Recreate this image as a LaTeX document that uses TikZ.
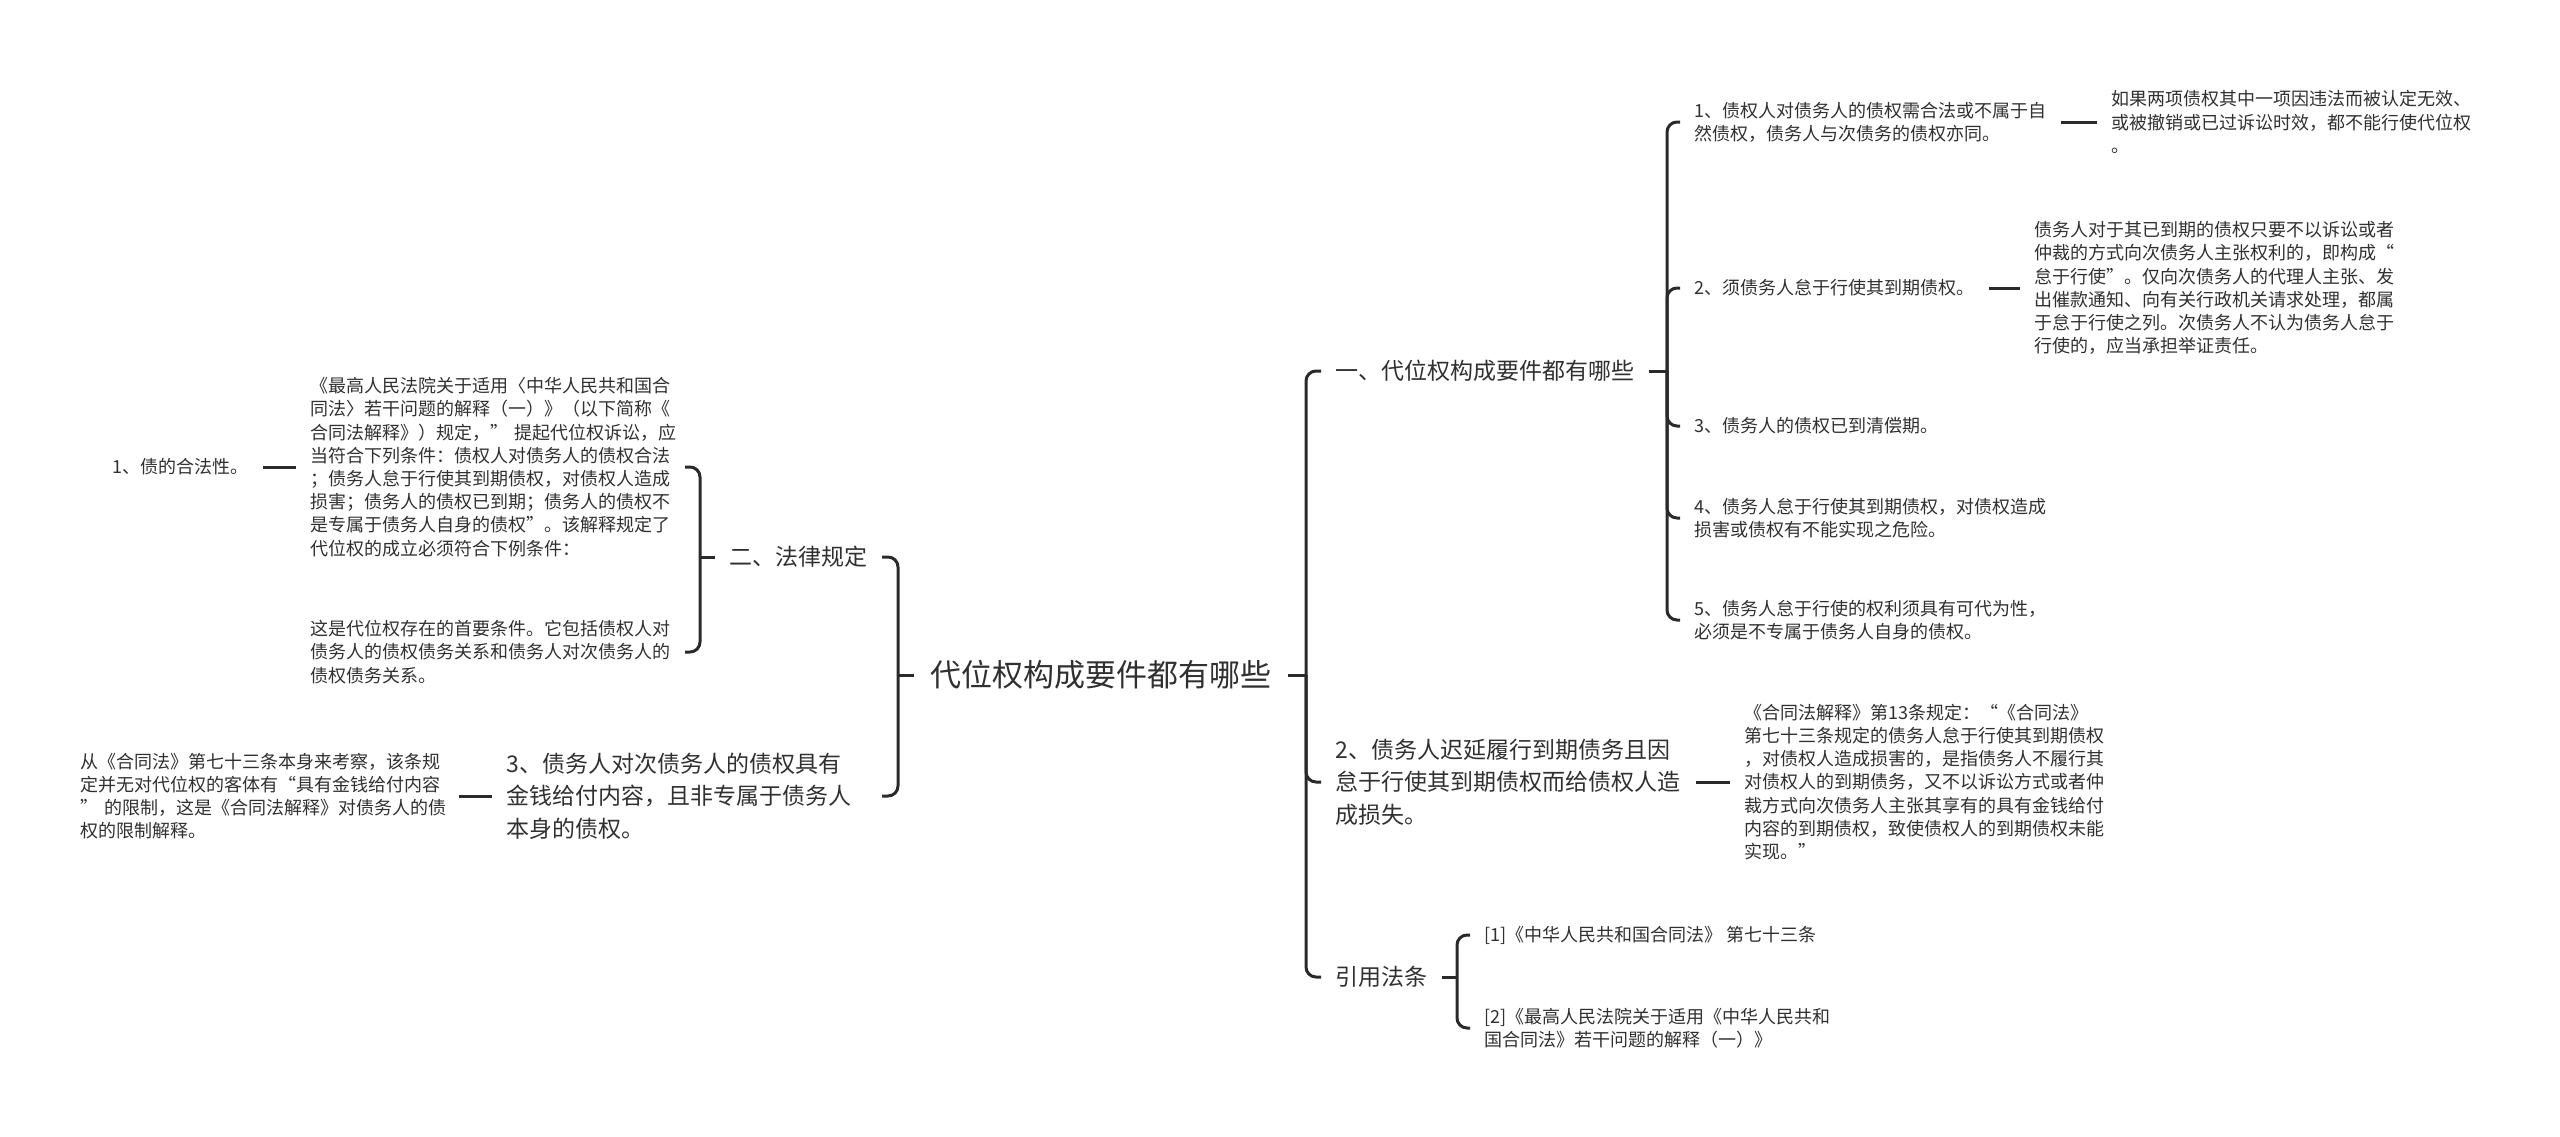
\documentclass[tikz,border=0pt]{standalone}
\usepackage{fontspec}
\setmainfont{Noto Sans CJK SC}
\usepackage{tikz}
\usetikzlibrary{positioning, calc}

\definecolor{linecol}{HTML}{2A2A2A}
\definecolor{txtcol}{HTML}{303030}

\begin{document}
\begin{tikzpicture}[
    x=0.5pt, y=-0.5pt,
    base/.style={inner xsep=7pt, inner ysep=2pt, align=left, text=txtcol},
    rootbox/.style={base, inner xsep=8pt, font=\fontsize{15.5}{19}\selectfont},
    topic/.style={base, font=\fontsize{11.5}{16.25}\selectfont},
    leaf/.style={base, font=\fontsize{9}{11.6}\selectfont},
    conn/.style={draw=linecol, line width=1.5pt, rounded corners=5pt},
    node distance=16.5pt,
]
\useasboundingbox (0,0) rectangle (2560,1136);

\node[rootbox] (root) at (1101,675) {代位权构成要件都有哪些};

\node[topic, anchor=east] (fa) at (882,557) {二、法律规定};
\node[leaf, anchor=east, text width=180pt] (law) at (685,467) {《最高人民法院关于适用〈中华人民共和国合\\同法〉若干问题的解释（一）》（以下简称《\\合同法解释》）规定，”~提起代位权诉讼，应\\当符合下列条件：债权人对债务人的债权合法\\；债务人怠于行使其到期债权，对债权人造成\\损害；债务人的债权已到期；债务人的债权不\\是专属于债务人自身的债权”。该解释规定了\\代位权的成立必须符合下例条件：};
\node[leaf, left=of law] (legal) {1、债的合法性。};
\node[leaf, anchor=east, text width=180pt] (cond) at (685,652) {这是代位权存在的首要条件。它包括债权人对\\债务人的债权债务关系和债务人对次债务人的\\债权债务关系。};
\node[topic, anchor=east, text width=180.5pt] (san) at (882,796) {3、债务人对次债务人的债权具有\\金钱给付内容，且非专属于债务人\\本身的债权。};
\node[leaf, left=of san, text width=182pt] (sanx) {从《合同法》第七十三条本身来考察，该条规\\定并无对代位权的客体有“具有金钱给付内容\\”~的限制，这是《合同法解释》对债务人的债\\权的限制解释。};

\node[topic, anchor=west] (yi) at (1321,371) {一、代位权构成要件都有哪些};
\node[leaf, anchor=west, text width=176pt] (c1) at (1680,122) {1、债权人对债务人的债权需合法或不属于自\\然债权，债务人与次债务的债权亦同。};
\node[leaf, right=18pt of c1, text width=181pt] (c1x) {如果两项债权其中一项因违法而被认定无效、\\或被撤销或已过诉讼时效，都不能行使代位权\\。};
\node[leaf, anchor=west] (c2) at (1680,288) {2、须债务人怠于行使其到期债权。};
\node[leaf, right=15.5pt of c2, text width=181pt] (c2x) {债务人对于其已到期的债权只要不以诉讼或者\\仲裁的方式向次债务人主张权利的，即构成“\\怠于行使”。仅向次债务人的代理人主张、发\\出催款通知、向有关行政机关请求处理，都属\\于怠于行使之列。次债务人不认为债务人怠于\\行使的，应当承担举证责任。};
\node[leaf, anchor=west] (c3) at (1680,426) {3、债务人的债权已到清偿期。};
\node[leaf, anchor=west] (c4) at (1680,518) {4、债务人怠于行使其到期债权，对债权造成\\损害或债权有不能实现之危险。};
\node[leaf, anchor=west] (c5) at (1680,620) {5、债务人怠于行使的权利须具有可代为性，\\必须是不专属于债务人自身的债权。};

\node[topic, anchor=west, text width=173pt] (er) at (1321,782) {2、债务人迟延履行到期债务且因\\怠于行使其到期债权而给债权人造\\成损失。};
\node[leaf, right=17pt of er, text width=181pt] (erx) {《合同法解释》第13条规定：“《合同法》\\第七十三条规定的债务人怠于行使其到期债权\\，对债权人造成损害的，是指债务人不履行其\\对债权人的到期债务，又不以诉讼方式或者仲\\裁方式向次债务人主张其享有的具有金钱给付\\内容的到期债权，致使债权人的到期债权未能\\实现。”};

\node[topic, anchor=west] (yy) at (1321,977) {引用法条};
\node[leaf, anchor=west] (r1) at (1470,935) {[1]《中华人民共和国合同法》 第七十三条};
\node[leaf, anchor=west] (r2) at (1470,1028) {[2]《最高人民法院关于适用《中华人民共和\\国合同法》若干问题的解释（一）》};

\coordinate (lj) at (898,675);
\coordinate (rj) at (1306,675);
\coordinate (faj) at (700,557);
\coordinate (yij) at (1667,371);
\coordinate (yyj) at (1457,977);

\draw[conn] (root.west) -- (lj);
\draw[conn] (root.east) -- (rj);
\foreach \n in {fa,san} \draw[conn] (lj) |- (\n.east);
\foreach \n in {yi,er,yy} \draw[conn] (rj) |- (\n.west);

\draw[conn] (fa.west) -- (faj);
\foreach \n in {law,cond} \draw[conn] (faj) |- (\n.east);
\draw[conn] (law.west) -- (legal.east);
\draw[conn] (san.west) -- (sanx.east);

\draw[conn] (yi.east) -- (yij);
\foreach \n in {c1,c2,c3,c4,c5} \draw[conn] (yij) |- (\n.west);
\draw[conn] (c1.east) -- (c1x.west);
\draw[conn] (c2.east) -- (c2x.west);
\draw[conn] (er.east) -- (erx.west);

\draw[conn] (yy.east) -- (yyj);
\foreach \n in {r1,r2} \draw[conn] (yyj) |- (\n.west);
\end{tikzpicture}
\end{document}
